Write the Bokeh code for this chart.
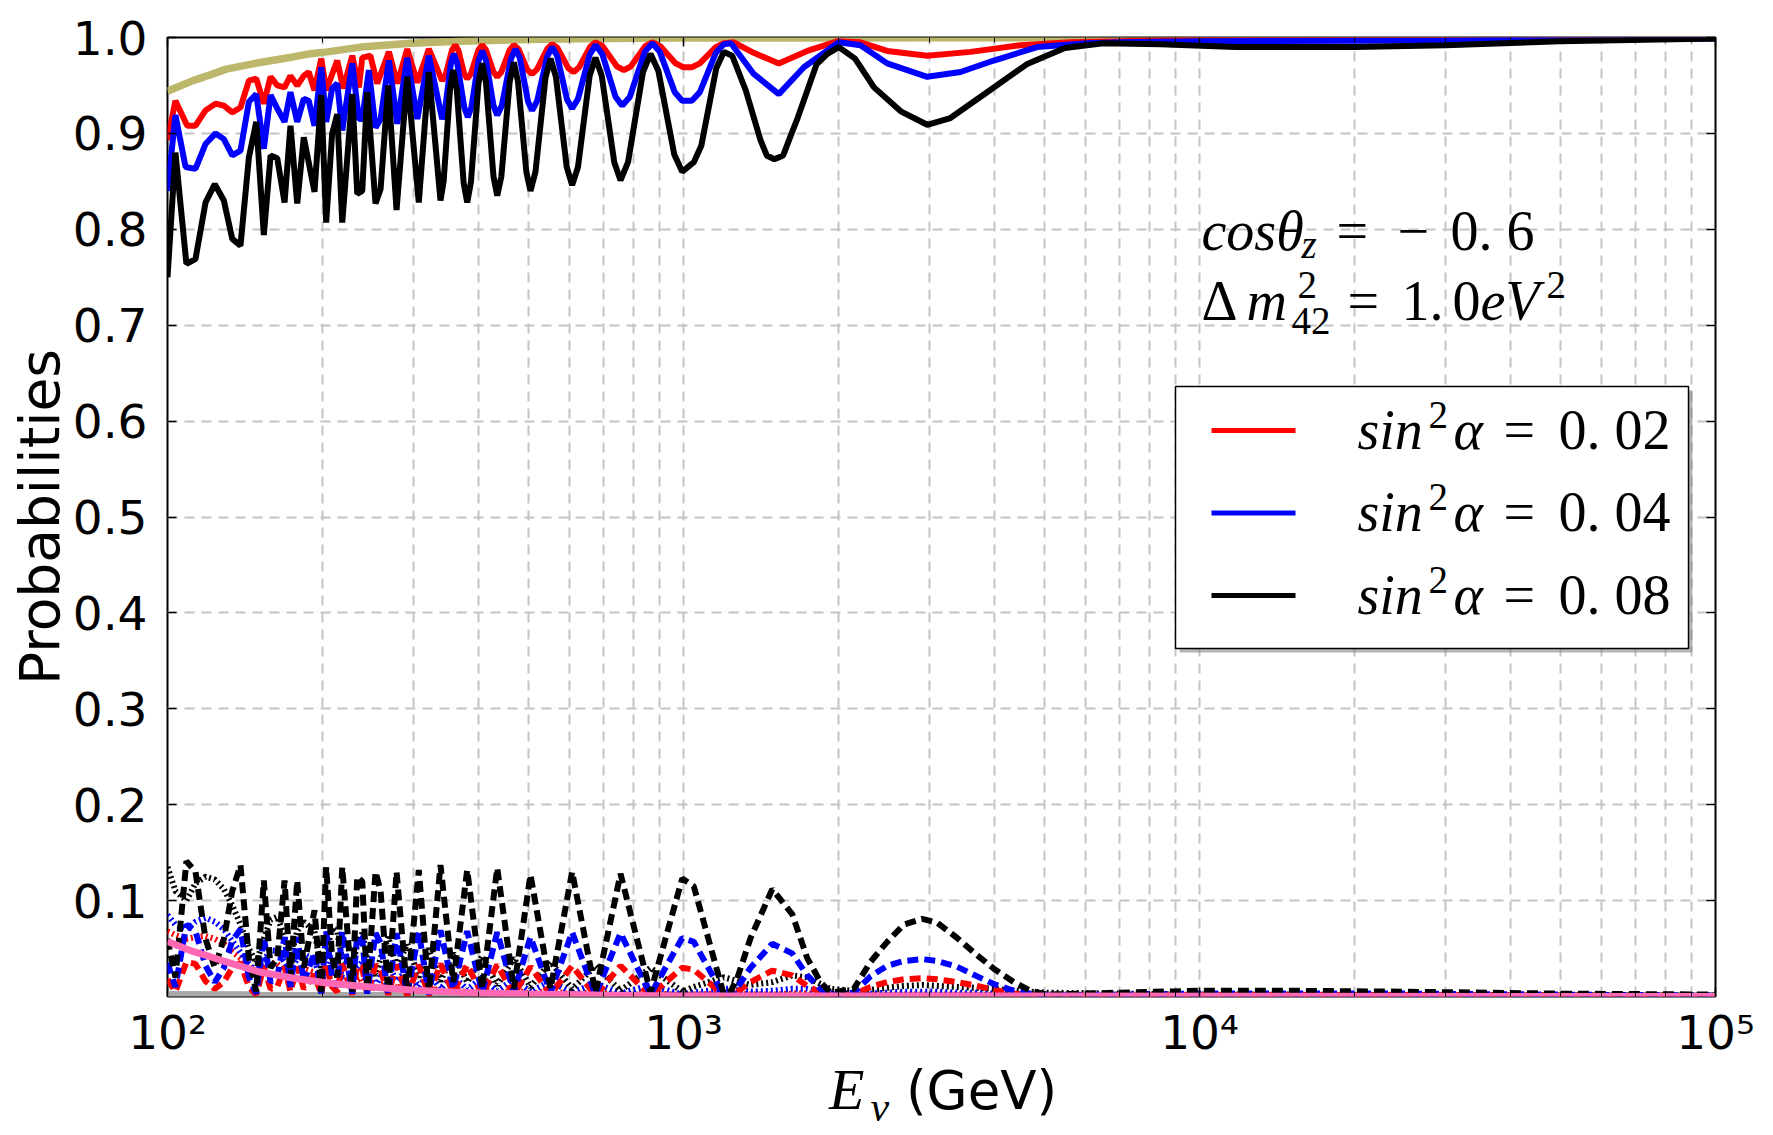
from bokeh.embed import file_html
from bokeh.layouts import column
from bokeh.models import (BoxAnnotation, Div, FixedTicker, Label, LinearAxis, LogAxis,
                          PrintfTickFormatter, Range1d)
from bokeh.plotting import figure
from bokeh.resources import INLINE

# ---------------------------------------------------------------------------
# Oscillation probabilities vs neutrino energy (GeV), cos(theta_z) = -0.6,
# dm^2_42 = 1.0 eV^2, three values of the sterile mixing sin^2(alpha).
# ---------------------------------------------------------------------------

# survival probability, sin^2(alpha) = 0.02
E_red = [100, 103.6, 109.2, 113.3, 118.5, 123.9, 128.6, 133.5, 138.5, 143.8,
         148.6, 153.7, 158.4, 163.2, 168.6, 173.1, 178.4, 183.7, 187.8, 192.7,
         198.6, 203.0, 213.3, 219.0, 228.1, 234.9, 238.5, 247.3, 254.9, 268.6,
         278.8, 291.5, 304.9, 321.0, 340.6, 345.6, 356.0, 361.2, 366.0, 375.9,
         380.9, 387.3, 400.5, 407.3, 414.2, 428.3, 435.5, 443.6, 460.4, 469.0,
         478.7, 498.7, 509.1, 520.5, 544.2, 556.4, 570.0, 598.1, 612.8, 627.7,
         658.8, 675.2, 696.9, 742.5, 766.3, 791.0, 842.8, 870.2, 901.0, 965.8,
         1000, 1038, 1075.7, 1155.1, 1197, 1252, 1368, 1530, 1737, 1986,
         2203, 2482, 2967, 3599, 4499, 5623, 7030, 10000, 100000]
P_red = [0.893, 0.934, 0.908, 0.908, 0.924, 0.931, 0.929, 0.922, 0.927, 0.955,
         0.957, 0.931, 0.959, 0.950, 0.948, 0.960, 0.950, 0.960, 0.964, 0.945,
         0.978, 0.945, 0.976, 0.947, 0.981, 0.948, 0.979, 0.981, 0.952, 0.985,
         0.952, 0.988, 0.953, 0.988, 0.955, 0.960, 0.987, 0.992, 0.987, 0.962,
         0.957, 0.962, 0.987, 0.992, 0.987, 0.964, 0.959, 0.964, 0.987, 0.992,
         0.988, 0.966, 0.962, 0.967, 0.988, 0.993, 0.989, 0.968, 0.964, 0.969,
         0.990, 0.995, 0.991, 0.970, 0.966, 0.970, 0.991, 0.995, 0.991, 0.973,
         0.969, 0.969, 0.973, 0.990, 0.994, 0.995, 0.984, 0.973, 0.986, 0.996,
         0.995, 0.986, 0.981, 0.985, 0.992, 0.995, 0.996, 0.998, 0.999]

# survival probability, sin^2(alpha) = 0.04
E_blue = [100, 103.6, 108.4, 113.3, 118.5, 123.9, 128.6, 133.5, 138.5, 143.8,
          148.6, 153.7, 158.4, 163.2, 168.6, 173.1, 178.4, 183.7, 187.8, 192.7,
          198.6, 203.0, 208.5, 213.3, 218.1, 228.1, 234.9, 238.5, 245.6, 253.0,
          258.8, 268.6, 278.8, 291.5, 304.9, 321.0, 340.6, 345.1, 354.2, 358.8,
          364.4, 376.0, 381.9, 388.1, 400.8, 407.3, 414.2, 428.3, 435.5, 444.6,
          463.1, 472.7, 481.6, 499.7, 509.1, 520.5, 544.2, 556.4, 568.9, 595.0,
          608.4, 624.5, 657.8, 675.2, 695.7, 738.5, 760.8, 786.8, 841.4, 870.2,
          899.7, 961.7, 994.3, 1038, 1075.7, 1155.1, 1197, 1236, 1368, 1530,
          1711, 2000, 2203, 2482, 2967, 3442, 3994, 4847, 6060, 7030,
          10000, 30000, 100000]
P_blue = [0.840, 0.919, 0.865, 0.863, 0.889, 0.900, 0.894, 0.877, 0.882, 0.933,
          0.941, 0.884, 0.940, 0.926, 0.912, 0.943, 0.912, 0.936, 0.934, 0.908,
          0.969, 0.912, 0.947, 0.952, 0.903, 0.973, 0.915, 0.915, 0.966, 0.906,
          0.915, 0.976, 0.910, 0.979, 0.915, 0.981, 0.915, 0.925, 0.973, 0.983,
          0.973, 0.927, 0.917, 0.927, 0.976, 0.986, 0.976, 0.929, 0.919, 0.929,
          0.978, 0.988, 0.979, 0.933, 0.924, 0.934, 0.980, 0.990, 0.981, 0.935,
          0.926, 0.936, 0.982, 0.992, 0.983, 0.938, 0.929, 0.938, 0.985, 0.994,
          0.985, 0.943, 0.934, 0.934, 0.943, 0.984, 0.993, 0.994, 0.962, 0.941,
          0.969, 0.995, 0.992, 0.973, 0.959, 0.964, 0.976, 0.990, 0.994, 0.995,
          0.996, 0.997, 0.999]

# survival probability, sin^2(alpha) = 0.08
E_black = [100, 103.6, 108.8, 113.3, 118.5, 123.5, 128.6, 133.5, 138.5, 143.8,
           148.6, 153.7, 158.4, 163.2, 168.6, 173.1, 178.4, 183.7, 192.7, 198.6,
           203.0, 208.5, 213.3, 218.1, 228.1, 233.2, 238.5, 243.8, 253.0, 258.8,
           267.8, 277.9, 291.5, 306.9, 321.0, 338.1, 342.9, 352.8, 357.9, 363.5,
           375.0, 380.9, 387.3, 400.5, 407.3, 414.2, 428.3, 435.5, 443.6, 460.4,
           469.0, 477.8, 495.9, 505.2, 516.6, 540.2, 552.4, 565.9, 593.8, 608.4,
           624.5, 657.8, 675.2, 694.3, 734.2, 755.0, 780.7, 834.6, 863.0, 894.1,
           959.7, 994.3, 1047, 1082.6, 1157.6, 1197, 1243, 1320, 1410, 1450,
           1500, 1560, 1620, 1664, 1811, 1900, 2000, 2150, 2340, 2637,
           2967, 3290, 3900, 4624, 5483, 6500, 8400, 11750, 20000, 30000,
           50000, 100000]
P_black = [0.750, 0.880, 0.764, 0.769, 0.828, 0.847, 0.830, 0.790, 0.783, 0.875,
           0.912, 0.794, 0.877, 0.874, 0.828, 0.908, 0.827, 0.896, 0.839, 0.940,
           0.807, 0.900, 0.920, 0.807, 0.941, 0.837, 0.840, 0.943, 0.827, 0.842,
           0.950, 0.820, 0.959, 0.828, 0.964, 0.830, 0.850, 0.946, 0.966, 0.946,
           0.848, 0.828, 0.849, 0.952, 0.973, 0.953, 0.855, 0.835, 0.855, 0.954,
           0.974, 0.954, 0.860, 0.840, 0.860, 0.958, 0.978, 0.959, 0.865, 0.846,
           0.865, 0.960, 0.979, 0.960, 0.870, 0.851, 0.870, 0.964, 0.983, 0.965,
           0.878, 0.860, 0.870, 0.887, 0.968, 0.985, 0.981, 0.945, 0.893, 0.877,
           0.873, 0.877, 0.900, 0.916, 0.972, 0.983, 0.990, 0.978, 0.948, 0.923,
           0.909, 0.916, 0.944, 0.972, 0.989, 0.994, 0.993, 0.990, 0.990, 0.992,
           0.996, 0.999]

# common energy grid of the appearance channels
E_app = [100, 103.6, 108.8, 113.3, 118.5, 123.5, 128.6, 133.5, 138.5, 143.8,
         148.6, 153.7, 158.4, 163.2, 168.6, 173.1, 178.4, 183.7, 192.7, 198.6,
         203.0, 208.5, 213.3, 218.1, 228.1, 233.2, 238.5, 243.8, 253.0, 258.8,
         267.8, 277.9, 291.5, 306.9, 321.0, 338.1, 357.9, 380.9, 407.3, 435.5,
         469.0, 505.2, 552.4, 608.4, 675.2, 755.0, 863.0, 994.3, 1047, 1197,
         1236, 1271, 1349, 1486, 1624, 1737, 1843, 1927, 2138, 2303,
         2482, 2673, 2901, 3101, 3391, 3709, 3994, 4366, 4703, 5068,
         7000, 10000, 15000, 25000, 50000, 100000]

# sterile appearance (dashed)
S_red = [0.018, 0.005, 0.036, 0.034, 0.016, 0.008, 0.015, 0.030, 0.035, 0.010,
         0.002, 0.031, 0.008, 0.010, 0.031, 0.005, 0.031, 0.008, 0.023, 0.002,
         0.034, 0.010, 0.005, 0.034, 0.002, 0.032, 0.030, 0.002, 0.033, 0.028,
         0.002, 0.033, 0.001, 0.033, 0.001, 0.034, 0.004, 0.033, 0.002, 0.033,
         0.002, 0.031, 0.002, 0.032, 0.001, 0.032, 0.001, 0.030, 0.028, 0.001,
         0.002, 0.005, 0.015, 0.027, 0.022, 0.011, 0.004, 0.001, 0.002, 0.010,
         0.015, 0.018, 0.019, 0.018, 0.015, 0.011, 0.007, 0.003, 0.001, 0.0005,
         0.001, 0.0015, 0.0015, 0.0015, 0.001, 0.0005]
S_blue = [0.035, 0.010, 0.075, 0.068, 0.032, 0.015, 0.030, 0.058, 0.070, 0.020,
          0.003, 0.062, 0.015, 0.020, 0.062, 0.010, 0.062, 0.015, 0.046, 0.003,
          0.068, 0.020, 0.010, 0.068, 0.003, 0.064, 0.060, 0.003, 0.066, 0.056,
          0.003, 0.066, 0.002, 0.067, 0.002, 0.069, 0.008, 0.068, 0.004, 0.067,
          0.004, 0.062, 0.004, 0.067, 0.002, 0.066, 0.002, 0.061, 0.057, 0.001,
          0.003, 0.009, 0.030, 0.055, 0.045, 0.022, 0.008, 0.002, 0.004, 0.021,
          0.032, 0.037, 0.039, 0.037, 0.031, 0.021, 0.013, 0.006, 0.003, 0.001,
          0.002, 0.003, 0.003, 0.003, 0.002, 0.001]
S_black = [0.060, 0.020, 0.141, 0.130, 0.060, 0.030, 0.060, 0.110, 0.137, 0.040,
           0.005, 0.121, 0.030, 0.040, 0.121, 0.020, 0.121, 0.030, 0.090, 0.005,
           0.135, 0.040, 0.020, 0.135, 0.005, 0.125, 0.120, 0.005, 0.130, 0.110,
           0.005, 0.130, 0.004, 0.132, 0.004, 0.137, 0.015, 0.132, 0.008, 0.134,
           0.008, 0.127, 0.008, 0.130, 0.004, 0.128, 0.004, 0.123, 0.115, 0.002,
           0.006, 0.019, 0.061, 0.112, 0.086, 0.040, 0.015, 0.004, 0.008, 0.036,
           0.057, 0.075, 0.081, 0.077, 0.061, 0.043, 0.029, 0.015, 0.006, 0.002,
           0.004, 0.006, 0.006, 0.005, 0.003, 0.002]

# tau appearance (dotted)
T_red = [0.068, 0.064, 0.060, 0.062, 0.063, 0.060, 0.055, 0.047, 0.040, 0.032,
         0.027, 0.031, 0.035, 0.034, 0.027, 0.022, 0.027, 0.029, 0.025, 0.014,
         0.017, 0.024, 0.022, 0.013, 0.011, 0.017, 0.019, 0.012, 0.008, 0.011,
         0.016, 0.009, 0.013, 0.006, 0.011, 0.005, 0.009, 0.004, 0.008, 0.003,
         0.007, 0.003, 0.006, 0.002, 0.005, 0.0015, 0.004, 0.001, 0.002, 0.003,
         0.003, 0.003, 0.002, 0.002, 0.003, 0.003, 0.002, 0.0015, 0.0015, 0.0015,
         0.002, 0.002, 0.002, 0.002, 0.002, 0.002, 0.0015, 0.001, 0.001, 0.001,
         0.0005, 0.0005, 0.0005, 0.0003, 0.0002, 0.0002]
T_blue = [0.085, 0.075, 0.070, 0.078, 0.082, 0.078, 0.070, 0.058, 0.046, 0.034,
          0.026, 0.038, 0.048, 0.048, 0.036, 0.026, 0.040, 0.044, 0.038, 0.016,
          0.026, 0.040, 0.038, 0.020, 0.016, 0.030, 0.036, 0.022, 0.011, 0.021,
          0.033, 0.016, 0.028, 0.010, 0.025, 0.008, 0.022, 0.007, 0.020, 0.006,
          0.018, 0.005, 0.016, 0.004, 0.014, 0.003, 0.012, 0.002, 0.004, 0.008,
          0.008, 0.007, 0.005, 0.006, 0.008, 0.008, 0.005, 0.003, 0.003, 0.003,
          0.004, 0.005, 0.005, 0.005, 0.004, 0.004, 0.003, 0.003, 0.002, 0.002,
          0.001, 0.001, 0.001, 0.0008, 0.0005, 0.0005]
T_black = [0.135, 0.110, 0.100, 0.118, 0.125, 0.122, 0.112, 0.095, 0.075, 0.050,
           0.035, 0.060, 0.080, 0.083, 0.062, 0.040, 0.068, 0.078, 0.068, 0.028,
           0.045, 0.072, 0.068, 0.038, 0.030, 0.055, 0.066, 0.040, 0.022, 0.040,
           0.062, 0.030, 0.055, 0.020, 0.050, 0.016, 0.045, 0.015, 0.042, 0.012,
           0.040, 0.010, 0.036, 0.008, 0.032, 0.006, 0.030, 0.005, 0.010, 0.020,
           0.018, 0.016, 0.012, 0.015, 0.022, 0.020, 0.013, 0.008, 0.006, 0.007,
           0.009, 0.011, 0.012, 0.011, 0.010, 0.009, 0.008, 0.006, 0.005, 0.004,
           0.003, 0.002, 0.002, 0.001, 0.001, 0.001]

# standard three-flavour reference curves
E_std = [100, 112, 121, 130, 151, 176, 189, 204, 237, 296, 370, 500, 700, 1000, 100000]
P_mumu_std = [0.944, 0.955, 0.961, 0.967, 0.974, 0.980, 0.983, 0.985, 0.990, 0.994,
              0.996, 0.998, 0.999, 0.9995, 1.0]
P_mutau_std = [0.0574, 0.047, 0.0415, 0.036, 0.0255, 0.019, 0.0167, 0.014, 0.0106, 0.0067,
               0.0043, 0.0025, 0.0012, 0.0006, 0.0]
E_mue = [100, 100000]
P_mue_std = [0.002, 0.001]

series_labels = ["0.02", "0.04", "0.08"]
x_tick_values = [100, 1000, 10000, 100000]
x_tick_labels = ["10²", "10³", "10⁴", "10⁵"]
y_tick_values = [0.1, 0.2, 0.3, 0.4, 0.5, 0.6, 0.7, 0.8, 0.9, 1.0]

# ---------------------------------------------------------------------------
FRAME_L, FRAME_R, FRAME_T, FRAME_B = 167, 1715, 37, 996
W, H_FIG, H_XLAB = 1773, 1065, 70
MATH_FONT = "'Liberation Serif', 'DejaVu Serif', serif"

p = figure(width=W, height=H_FIG, x_axis_type="log",
           x_range=Range1d(100, 100000), y_range=Range1d(0.0, 1.0),
           output_backend="svg", toolbar_location=None,
           min_border_left=FRAME_L, min_border_right=W - FRAME_R,
           min_border_top=FRAME_T, min_border_bottom=H_FIG - FRAME_B)
p.background_fill_color = "white"
p.border_fill_color = "white"
p.outline_line_color = "black"
p.outline_line_width = 2

minor = [m * 10 ** k for k in (2, 3, 4) for m in range(2, 10)]
xticker = FixedTicker(ticks=x_tick_values, minor_ticks=minor)
yticker = FixedTicker(ticks=y_tick_values)

TICK_FONT = "47px"
for ax in p.xaxis:
    ax.ticker = xticker
    ax.major_label_overrides = dict(zip(x_tick_values, x_tick_labels))
for ax in p.yaxis:
    ax.ticker = yticker
    ax.formatter = PrintfTickFormatter(format="%.1f")
    ax.axis_label = "Probabilities"
    ax.axis_label_text_font = "DejaVu Sans"
    ax.axis_label_text_font_style = "normal"
    ax.axis_label_text_font_size = "55px"
    ax.axis_label_text_color = "black"
    ax.axis_label_standoff = -2
for ax in list(p.xaxis) + list(p.yaxis):
    ax.axis_line_color = None
    ax.major_tick_in = 9
    ax.major_tick_out = 0
    ax.minor_tick_in = 5
    ax.minor_tick_out = 0
    ax.major_tick_line_width = 1.5
    ax.major_label_text_font = "DejaVu Sans"
    ax.major_label_text_font_size = TICK_FONT
    ax.major_label_text_color = "black"
p.yaxis.minor_tick_line_color = None
p.xaxis.major_label_standoff = 8
p.yaxis.major_label_standoff = 20

# mirrored ticks on top and right (labels invisible)
top_ax = LogAxis(ticker=xticker, axis_line_color=None, major_tick_in=9, major_tick_out=0,
                 minor_tick_in=5, minor_tick_out=0, major_tick_line_width=1.5,
                 major_label_text_font_size="2px", major_label_text_alpha=0,
                 major_label_standoff=0)
right_ax = LinearAxis(ticker=yticker, axis_line_color=None, major_tick_in=9, major_tick_out=0,
                      minor_tick_line_color=None, major_tick_line_width=1.5,
                      major_label_text_font_size="2px", major_label_text_alpha=0,
                      major_label_standoff=0)
p.add_layout(top_ax, "above")
p.add_layout(right_ax, "right")

for g in (p.xgrid, p.ygrid):
    g.grid_line_color = "#c4c4c4"
    g.grid_line_width = 2
    g.grid_line_dash = "10 7"
p.xgrid.minor_grid_line_color = "#c4c4c4"
p.xgrid.minor_grid_line_width = 2
p.xgrid.minor_grid_line_dash = "10 7"

# ---------------------------------------------------------------------------
LW = 6
p.line(E_std, P_mumu_std, line_color="#bdb76b", line_width=7.5)
p.line(E_mue, P_mue_std, line_color="#a8a8a8", line_width=7)

for T, c in ((T_red, "red"), (T_blue, "blue"), (T_black, "black")):
    p.line(E_app, T, line_color=c, line_width=LW, line_dash="2 3")
for S, c in ((S_red, "red"), (S_blue, "blue"), (S_black, "black")):
    p.line(E_app, S, line_color=c, line_width=LW, line_dash="11 6")

p.line(E_std, P_mutau_std, line_color="#ff69b4", line_width=7)

p.line(E_red, P_red, line_color="red", line_width=LW)
p.line(E_blue, P_blue, line_color="blue", line_width=LW)
p.line(E_black, P_black, line_color="black", line_width=LW)


# ---------------------------------------------------------------------------
def put(text, X, Y, size, style="normal"):
    """Place a math-style text with its baseline at canvas pixel (X, Y)."""
    lift = round(0.36 * size)
    p.add_layout(Label(x=X - FRAME_L, y=FRAME_B - Y + lift, x_units="screen", y_units="screen",
                       text=text, text_font=MATH_FONT, text_font_style=style,
                       text_font_size=f"{size}px", text_color="black",
                       text_align="left", text_baseline="alphabetic"))


# parameter annotation
put("cosθ", 1201, 250, 56, style="italic")
put("z", 1301, 258, 39, style="italic")
put("=", 1336, 250, 56)
put("−", 1397, 250, 56)
put("0. 6", 1450, 250, 56)

put("Δ", 1201, 320, 56)
put("m", 1246, 320, 56, style="italic")
put("2", 1297, 298, 39)
put("42", 1291, 334, 39)
put("=", 1347, 320, 56)
put("1.", 1401, 320, 56)
put("0", 1452, 320, 56)
put("eV", 1480, 320, 56, style="italic")
put("2", 1546, 298, 39)

# legend: shadow, box, sample lines and labels
BX0, BX1, BY0, BY1 = 1175, 1688, 386, 648


def box(X0, X1, Y0, Y1, fill, line=None, alpha=1.0, lw=0):
    p.add_layout(BoxAnnotation(left=X0 - FRAME_L, right=X1 - FRAME_L,
                               top=FRAME_B - Y0, bottom=FRAME_B - Y1,
                               left_units="screen", right_units="screen",
                               top_units="screen", bottom_units="screen",
                               fill_color=fill, fill_alpha=alpha,
                               line_color=line, line_width=lw, line_alpha=1.0))


box(BX0 + 4, BX1 + 4, BY0 + 4, BY1 + 4, "#7a7a7a", alpha=0.55)
box(BX0, BX1, BY0, BY1, "white", line="black", lw=1.5)

for i, (c, lab) in enumerate(zip(("red", "blue", "black"), series_labels)):
    yc = 430 + 82.5 * i
    box(1211, 1295, yc - 2.5, yc + 2.5, c)
    base = yc + 19
    put("sin", 1357, base, 56, style="italic")
    put("2", 1428, base - 21, 39)
    put("α", 1453, base, 56, style="italic")
    put("=", 1503, base, 56)
    put(lab[:2] + " " + lab[2:], 1558, base, 56)

# x-axis title below the figure (mixed italic math symbol and upright unit)
xlab = Div(
    text=('<div style="position:relative; left:829px; top:-4px; white-space:nowrap; '
          'line-height:1; font-size:58px; font-family:\'Liberation Serif\'; color:black;">'
          '<span style="font-style:italic;">E</span>'
          '<span style="font-style:italic; font-size:42px; position:relative; top:12px; '
          'margin-left:6px;">ν</span>'
          '<span style="font-family:\'DejaVu Sans\'; font-size:53px;"> (GeV)</span></div>'),
    width=W, height=H_XLAB, margin=(0, 0, 0, 0))

page = column(p, xlab, spacing=0)

open("out.html", "w").write(file_html(page, INLINE))
